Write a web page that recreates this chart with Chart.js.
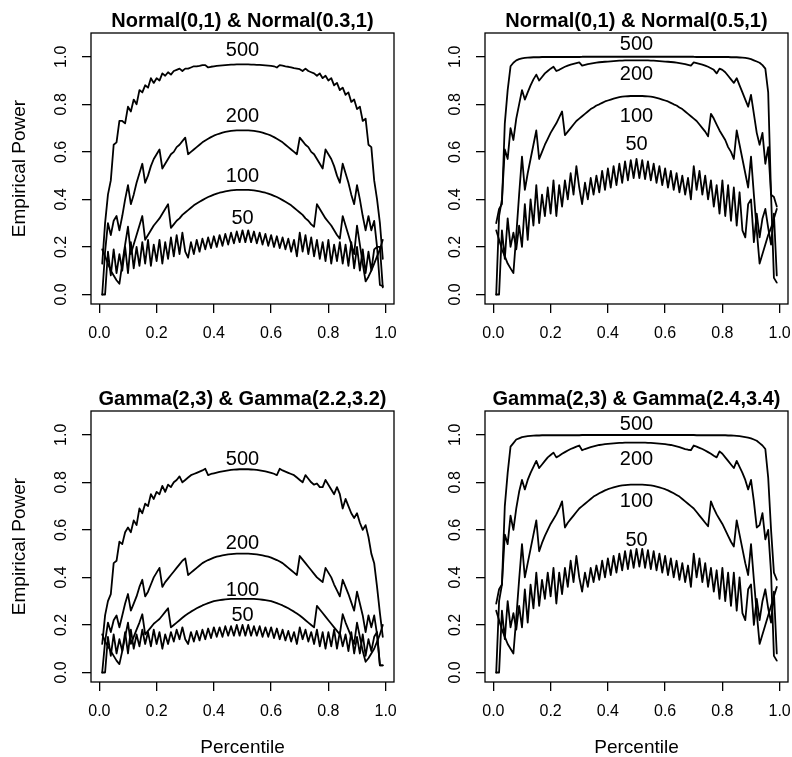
<!DOCTYPE html>
<html>
<head>
<meta charset="utf-8">
<script src="https://cdn.jsdelivr.net/npm/chart.js@4.4.1/dist/chart.umd.min.js"></script>
<style>
  html, body { margin: 0; padding: 0; background: #fff; }
  #wrap { position: relative; width: 792px; height: 757px; }
  canvas { position: absolute; }
</style>
</head>
<body>
<div id="wrap">
  <canvas id="c0" width="396" height="378" style="left:0;top:0"></canvas>
  <canvas id="c1" width="396" height="378" style="left:396px;top:0"></canvas>
  <canvas id="c2" width="396" height="379" style="left:0;top:378px"></canvas>
  <canvas id="c3" width="396" height="379" style="left:396px;top:378px"></canvas>
</div>
<script>
// percentiles 0.01 .. 0.99
const percentiles = [
  0.01,0.02,0.03,0.04,0.05,0.06,0.07,0.08,0.09,0.10,
  0.11,0.12,0.13,0.14,0.15,0.16,0.17,0.18,0.19,0.20,
  0.21,0.22,0.23,0.24,0.25,0.26,0.27,0.28,0.29,0.30,
  0.31,0.32,0.33,0.34,0.35,0.36,0.37,0.38,0.39,0.40,
  0.41,0.42,0.43,0.44,0.45,0.46,0.47,0.48,0.49,0.50,
  0.51,0.52,0.53,0.54,0.55,0.56,0.57,0.58,0.59,0.60,
  0.61,0.62,0.63,0.64,0.65,0.66,0.67,0.68,0.69,0.70,
  0.71,0.72,0.73,0.74,0.75,0.76,0.77,0.78,0.79,0.80,
  0.81,0.82,0.83,0.84,0.85,0.86,0.87,0.88,0.89,0.90,
  0.91,0.92,0.93,0.94,0.95,0.96,0.97,0.98,0.99
];

const sampleSizes = ["500", "200", "100", "50"];
const panelTitles = [
  "Normal(0,1) & Normal(0.3,1)",
  "Normal(0,1) & Normal(0.5,1)",
  "Gamma(2,3) & Gamma(2.2,3.2)",
  "Gamma(2,3) & Gamma(2.4,3.4)"
];
const xTicks = [0, 0.2, 0.4, 0.6, 0.8, 1.0];
const yTicks = [0, 0.2, 0.4, 0.6, 0.8, 1.0];
const xTitle = "Percentile";
const yTitle = "Empirical Power";

// ---- Normal(0,1) & Normal(0.3,1)
const normal03_n500 = [
  0.13,0.30,0.42,0.48,0.63,0.64,0.73,0.73,0.72,0.79,
  0.77,0.82,0.80,0.86,0.85,0.88,0.87,0.91,0.89,0.91,
  0.90,0.93,0.92,0.935,0.925,0.94,0.945,0.95,0.94,0.95,
  0.95,0.955,0.96,0.96,0.962,0.965,0.965,0.955,0.958,0.96,
  0.962,0.963,0.964,0.965,0.966,0.967,0.967,0.968,0.968,0.968,
  0.968,0.968,0.967,0.967,0.966,0.966,0.965,0.964,0.963,0.962,
  0.96,0.955,0.965,0.963,0.96,0.958,0.955,0.952,0.95,0.948,
  0.94,0.95,0.94,0.935,0.93,0.92,0.93,0.91,0.92,0.90,
  0.91,0.88,0.89,0.86,0.87,0.84,0.85,0.81,0.82,0.78,
  0.79,0.73,0.74,0.63,0.62,0.48,0.40,0.30,0.15
];
const normal03_n200 = [
  0.00,0.18,0.30,0.25,0.31,0.33,0.27,0.33,0.40,0.46,
  0.38,0.42,0.47,0.51,0.55,0.47,0.50,0.54,0.57,0.59,
  0.61,0.53,0.55,0.57,0.59,0.60,0.62,0.63,0.645,0.66,
  0.59,0.60,0.61,0.62,0.63,0.64,0.648,0.655,0.662,0.668,
  0.673,0.677,0.681,0.684,0.686,0.688,0.689,0.69,0.69,0.69,
  0.69,0.69,0.689,0.688,0.686,0.684,0.681,0.677,0.673,0.668,
  0.662,0.655,0.648,0.64,0.63,0.62,0.61,0.60,0.59,0.66,
  0.645,0.63,0.62,0.60,0.59,0.57,0.55,0.53,0.61,0.59,
  0.57,0.54,0.50,0.47,0.55,0.51,0.47,0.42,0.38,0.46,
  0.40,0.33,0.27,0.33,0.27,0.31,0.20,0.20,0.03
];
const normal03_n100 = [
  0.19,0.16,0.13,0.10,0.08,0.06,0.045,0.13,0.21,0.285,
  0.17,0.21,0.25,0.29,0.33,0.23,0.25,0.27,0.29,0.305,
  0.32,0.34,0.36,0.38,0.28,0.295,0.31,0.32,0.335,0.345,
  0.355,0.365,0.375,0.383,0.39,0.397,0.404,0.41,0.415,0.42,
  0.424,0.428,0.431,0.434,0.436,0.438,0.439,0.44,0.44,0.44,
  0.44,0.44,0.439,0.438,0.436,0.434,0.431,0.428,0.424,0.42,
  0.415,0.41,0.404,0.397,0.39,0.383,0.375,0.365,0.355,0.345,
  0.335,0.32,0.31,0.295,0.285,0.38,0.36,0.34,0.32,0.305,
  0.29,0.27,0.25,0.235,0.33,0.29,0.25,0.21,0.17,0.29,
  0.21,0.13,0.055,0.075,0.10,0.13,0.16,0.19,0.23
];
const normal03_n50 = [
  0.00,0.00,0.18,0.08,0.19,0.09,0.17,0.10,0.20,0.09,
  0.22,0.11,0.20,0.12,0.22,0.13,0.23,0.12,0.21,0.14,
  0.23,0.13,0.22,0.15,0.24,0.16,0.25,0.17,0.26,0.18,
  0.155,0.22,0.17,0.23,0.18,0.235,0.19,0.24,0.195,0.245,
  0.20,0.25,0.205,0.255,0.21,0.26,0.215,0.265,0.22,0.27,
  0.22,0.27,0.22,0.265,0.215,0.26,0.21,0.255,0.205,0.25,
  0.20,0.245,0.195,0.24,0.19,0.235,0.18,0.23,0.16,0.26,
  0.18,0.25,0.17,0.24,0.16,0.23,0.15,0.22,0.14,0.23,
  0.13,0.21,0.14,0.22,0.13,0.21,0.12,0.22,0.11,0.20,
  0.10,0.19,0.09,0.18,0.10,0.19,0.20,0.04,0.035
];

// ---- Normal(0,1) & Normal(0.5,1)
const normal05_n500 = [
  0.30,0.36,0.38,0.72,0.86,0.96,0.975,0.985,0.99,0.993,
  0.995,0.996,0.997,0.998,0.998,0.998,0.999,0.999,0.999,0.999,
  0.999,0.999,0.999,0.999,0.999,0.999,0.999,0.999,0.999,0.999,
  1.0,1.0,1.0,1.0,1.0,1.0,1.0,1.0,1.0,1.0,
  1.0,1.0,1.0,1.0,1.0,1.0,1.0,1.0,1.0,1.0,
  1.0,1.0,1.0,1.0,1.0,1.0,1.0,1.0,1.0,1.0,
  1.0,1.0,1.0,1.0,1.0,1.0,1.0,1.0,1.0,1.0,
  0.999,0.999,0.999,0.999,0.999,0.999,0.999,0.999,0.999,0.999,
  0.999,0.999,0.998,0.998,0.998,0.997,0.996,0.995,0.993,0.99,
  0.985,0.98,0.975,0.965,0.95,0.85,0.42,0.41,0.37
];
const normal05_n200 = [
  0.00,0.33,0.40,0.61,0.57,0.70,0.65,0.74,0.80,0.86,
  0.82,0.85,0.88,0.905,0.925,0.90,0.915,0.93,0.94,0.95,
  0.958,0.94,0.945,0.952,0.958,0.963,0.967,0.97,0.973,0.976,
  0.963,0.966,0.969,0.971,0.973,0.975,0.977,0.978,0.979,0.98,
  0.981,0.982,0.983,0.984,0.984,0.985,0.985,0.985,0.985,0.985,
  0.985,0.985,0.985,0.985,0.984,0.984,0.983,0.982,0.981,0.98,
  0.979,0.978,0.977,0.975,0.973,0.971,0.969,0.966,0.963,0.976,
  0.973,0.97,0.967,0.963,0.958,0.952,0.945,0.93,0.95,0.945,
  0.935,0.92,0.905,0.89,0.91,0.88,0.85,0.82,0.79,0.84,
  0.76,0.68,0.63,0.68,0.55,0.62,0.42,0.07,0.05
];
const normal05_n100 = [
  0.27,0.23,0.19,0.16,0.13,0.11,0.09,0.25,0.42,0.58,
  0.44,0.51,0.57,0.63,0.69,0.57,0.60,0.63,0.655,0.68,
  0.70,0.72,0.745,0.77,0.67,0.685,0.70,0.715,0.73,0.74,
  0.75,0.76,0.77,0.78,0.787,0.795,0.80,0.806,0.812,0.816,
  0.82,0.824,0.827,0.83,0.832,0.833,0.834,0.835,0.835,0.835,
  0.835,0.835,0.834,0.833,0.832,0.83,0.827,0.824,0.82,0.816,
  0.812,0.806,0.80,0.795,0.787,0.78,0.77,0.76,0.75,0.74,
  0.73,0.715,0.70,0.685,0.665,0.76,0.74,0.715,0.69,0.67,
  0.65,0.62,0.60,0.57,0.69,0.63,0.57,0.51,0.45,0.58,
  0.42,0.27,0.13,0.17,0.21,0.25,0.28,0.32,0.36
];
const normal05_n50 = [
  0.00,0.00,0.27,0.15,0.32,0.20,0.26,0.19,0.29,0.20,
  0.38,0.23,0.40,0.29,0.46,0.30,0.42,0.33,0.45,0.34,
  0.48,0.33,0.46,0.37,0.48,0.40,0.51,0.42,0.54,0.45,
  0.38,0.47,0.40,0.49,0.42,0.50,0.43,0.52,0.44,0.53,
  0.45,0.54,0.46,0.55,0.47,0.56,0.48,0.565,0.49,0.57,
  0.49,0.565,0.485,0.56,0.48,0.55,0.47,0.54,0.46,0.53,
  0.45,0.52,0.44,0.51,0.43,0.50,0.42,0.49,0.40,0.54,
  0.44,0.52,0.42,0.50,0.40,0.48,0.37,0.46,0.34,0.48,
  0.33,0.46,0.31,0.45,0.29,0.43,0.27,0.24,0.38,0.40,
  0.22,0.34,0.24,0.32,0.36,0.28,0.21,0.34,0.08
];

// ---- Gamma(2,3) & Gamma(2.2,3.2)
const gamma22_n500 = [
  0.12,0.24,0.30,0.33,0.46,0.47,0.55,0.54,0.59,0.61,
  0.59,0.64,0.62,0.69,0.67,0.71,0.70,0.75,0.73,0.76,
  0.75,0.785,0.76,0.79,0.78,0.80,0.81,0.825,0.80,0.81,
  0.82,0.83,0.835,0.84,0.845,0.85,0.857,0.83,0.835,0.838,
  0.841,0.844,0.846,0.848,0.85,0.852,0.853,0.854,0.855,0.855,
  0.855,0.855,0.854,0.853,0.852,0.85,0.848,0.846,0.843,0.84,
  0.836,0.83,0.857,0.85,0.845,0.84,0.835,0.83,0.82,0.81,
  0.80,0.83,0.815,0.80,0.79,0.795,0.78,0.78,0.81,0.79,
  0.77,0.75,0.78,0.75,0.69,0.73,0.70,0.67,0.65,0.67,
  0.63,0.60,0.62,0.57,0.50,0.46,0.36,0.25,0.15
];
const gamma22_n200 = [
  0.00,0.13,0.21,0.17,0.22,0.24,0.19,0.24,0.29,0.33,
  0.26,0.29,0.32,0.36,0.39,0.32,0.34,0.37,0.40,0.42,
  0.44,0.36,0.38,0.395,0.41,0.425,0.44,0.455,0.47,0.48,
  0.41,0.42,0.43,0.44,0.45,0.46,0.467,0.473,0.478,0.483,
  0.487,0.49,0.493,0.495,0.497,0.498,0.499,0.50,0.50,0.50,
  0.50,0.50,0.499,0.498,0.497,0.495,0.493,0.49,0.487,0.483,
  0.478,0.473,0.467,0.46,0.45,0.44,0.43,0.42,0.41,0.49,
  0.475,0.46,0.445,0.43,0.415,0.40,0.39,0.38,0.44,0.42,
  0.40,0.37,0.345,0.32,0.39,0.36,0.33,0.295,0.26,0.34,
  0.29,0.24,0.17,0.24,0.19,0.24,0.16,0.03,0.03
];
const gamma22_n100 = [
  0.16,0.13,0.11,0.09,0.07,0.05,0.035,0.09,0.15,0.21,
  0.12,0.15,0.18,0.21,0.245,0.16,0.175,0.19,0.205,0.215,
  0.225,0.24,0.255,0.27,0.19,0.20,0.21,0.22,0.23,0.24,
  0.248,0.256,0.263,0.27,0.276,0.282,0.287,0.292,0.296,0.30,
  0.302,0.304,0.306,0.308,0.309,0.31,0.31,0.31,0.31,0.31,
  0.31,0.31,0.31,0.31,0.309,0.308,0.306,0.304,0.302,0.30,
  0.296,0.292,0.287,0.282,0.276,0.27,0.263,0.256,0.248,0.24,
  0.23,0.22,0.21,0.20,0.19,0.28,0.265,0.25,0.235,0.22,
  0.205,0.19,0.175,0.16,0.245,0.21,0.18,0.15,0.12,0.21,
  0.15,0.09,0.045,0.06,0.08,0.10,0.13,0.16,0.20
];
const gamma22_n50 = [
  0.00,0.00,0.15,0.07,0.16,0.08,0.14,0.09,0.17,0.08,
  0.18,0.10,0.16,0.11,0.18,0.12,0.17,0.11,0.18,0.12,
  0.17,0.10,0.16,0.12,0.17,0.13,0.18,0.14,0.19,0.14,
  0.12,0.17,0.13,0.175,0.135,0.18,0.14,0.185,0.145,0.19,
  0.15,0.19,0.15,0.195,0.155,0.195,0.155,0.20,0.155,0.20,
  0.155,0.20,0.155,0.195,0.155,0.195,0.15,0.19,0.15,0.19,
  0.145,0.185,0.14,0.18,0.135,0.175,0.13,0.17,0.12,0.19,
  0.14,0.18,0.13,0.17,0.12,0.18,0.11,0.17,0.10,0.17,
  0.11,0.18,0.10,0.17,0.11,0.16,0.09,0.17,0.08,0.15,
  0.08,0.16,0.07,0.14,0.09,0.15,0.17,0.03,0.03
];

// ---- Gamma(2,3) & Gamma(2.4,3.4)
const gamma24_n500 = [
  0.29,0.35,0.37,0.70,0.84,0.95,0.965,0.98,0.985,0.99,
  0.992,0.994,0.995,0.996,0.997,0.997,0.998,0.998,0.998,0.998,
  0.998,0.998,0.998,0.998,0.998,0.998,0.998,0.998,0.998,0.998,
  0.999,0.999,0.999,0.999,0.999,0.999,0.999,0.999,0.999,0.999,
  0.999,0.999,0.999,0.999,0.999,0.999,0.999,0.999,0.999,0.999,
  0.999,0.999,0.999,0.999,0.999,0.999,0.999,0.999,0.999,0.999,
  0.999,0.999,0.999,0.999,0.999,0.999,0.999,0.999,0.999,0.999,
  0.998,0.998,0.998,0.998,0.998,0.998,0.998,0.998,0.998,0.998,
  0.998,0.997,0.997,0.996,0.995,0.994,0.992,0.99,0.988,0.985,
  0.98,0.975,0.965,0.955,0.94,0.82,0.60,0.42,0.39
];
const gamma24_n200 = [
  0.00,0.30,0.37,0.58,0.54,0.66,0.60,0.69,0.76,0.81,
  0.77,0.81,0.84,0.865,0.89,0.86,0.875,0.89,0.905,0.915,
  0.925,0.905,0.912,0.92,0.927,0.934,0.94,0.945,0.95,0.955,
  0.935,0.94,0.944,0.948,0.951,0.954,0.957,0.959,0.961,0.962,
  0.963,0.964,0.965,0.966,0.966,0.967,0.967,0.967,0.967,0.967,
  0.967,0.967,0.967,0.966,0.966,0.965,0.964,0.963,0.962,0.961,
  0.959,0.957,0.954,0.951,0.948,0.944,0.94,0.937,0.935,0.955,
  0.95,0.945,0.94,0.934,0.927,0.92,0.912,0.905,0.93,0.92,
  0.905,0.89,0.875,0.86,0.89,0.865,0.84,0.81,0.77,0.81,
  0.72,0.61,0.62,0.67,0.56,0.60,0.42,0.07,0.05
];
const gamma24_n100 = [
  0.26,0.22,0.18,0.15,0.12,0.10,0.08,0.23,0.39,0.54,
  0.40,0.46,0.52,0.58,0.64,0.51,0.545,0.575,0.60,0.625,
  0.645,0.665,0.69,0.72,0.61,0.63,0.645,0.66,0.675,0.69,
  0.70,0.71,0.72,0.73,0.74,0.747,0.754,0.76,0.766,0.771,
  0.775,0.779,0.782,0.785,0.787,0.788,0.789,0.79,0.79,0.79,
  0.79,0.79,0.789,0.788,0.787,0.785,0.782,0.779,0.775,0.771,
  0.766,0.76,0.754,0.747,0.74,0.73,0.72,0.71,0.70,0.69,
  0.675,0.66,0.645,0.63,0.615,0.72,0.69,0.665,0.645,0.625,
  0.60,0.575,0.55,0.53,0.64,0.58,0.52,0.46,0.41,0.54,
  0.39,0.25,0.12,0.16,0.20,0.24,0.28,0.32,0.36
];
const gamma24_n50 = [
  0.00,0.00,0.26,0.14,0.30,0.19,0.25,0.18,0.28,0.19,
  0.35,0.21,0.37,0.27,0.42,0.28,0.39,0.31,0.42,0.32,
  0.44,0.29,0.42,0.33,0.44,0.36,0.47,0.38,0.49,0.40,
  0.34,0.42,0.36,0.44,0.38,0.45,0.39,0.47,0.40,0.48,
  0.41,0.49,0.42,0.50,0.43,0.51,0.435,0.515,0.44,0.52,
  0.445,0.52,0.44,0.515,0.435,0.51,0.43,0.50,0.42,0.49,
  0.41,0.48,0.40,0.47,0.39,0.46,0.38,0.45,0.36,0.50,
  0.40,0.48,0.38,0.46,0.36,0.44,0.34,0.43,0.31,0.44,
  0.30,0.42,0.28,0.42,0.26,0.40,0.25,0.22,0.35,0.37,
  0.20,0.31,0.22,0.30,0.35,0.27,0.21,0.34,0.08
];

const FONT = '"Liberation Sans", Arial, Helvetica, sans-serif';

// panel layout: plot box in canvas pixels, label heights in data units
const panels = [
  { id: 'c0', title: panelTitles[0], series: [normal03_n500, normal03_n200, normal03_n100, normal03_n50],
    labelAt: [1.028, 0.748, 0.495, 0.32], box: { l: 91, r: 394, t: 33, b: 304 }, showY: true, showX: false },
  { id: 'c1', title: panelTitles[1], series: [normal05_n500, normal05_n200, normal05_n100, normal05_n50],
    labelAt: [1.05, 0.927, 0.748, 0.63], box: { l: 89, r: 392, t: 33, b: 304 }, showY: false, showX: false },
  { id: 'c2', title: panelTitles[2], series: [gamma22_n500, gamma22_n200, gamma22_n100, gamma22_n50],
    labelAt: [0.895, 0.542, 0.346, 0.239], box: { l: 91, r: 394, t: 33, b: 304 }, showY: true, showX: true },
  { id: 'c3', title: panelTitles[3], series: [gamma24_n500, gamma24_n200, gamma24_n100, gamma24_n50],
    labelAt: [1.045, 0.895, 0.718, 0.556], box: { l: 89, r: 392, t: 33, b: 304 }, showY: false, showX: true }
];

const TICK = 9;

const decorations = {
  id: 'decorations',
  afterDraw(chart, args, opts) {
    const ctx = chart.ctx;
    const a = chart.chartArea;
    const xs = chart.scales.x, ys = chart.scales.y;
    ctx.save();
    ctx.strokeStyle = '#000';
    ctx.fillStyle = '#000';
    ctx.lineWidth = 1.3;
    ctx.strokeRect(a.left, a.top, a.right - a.left, a.bottom - a.top);

    // panel title
    ctx.font = 'bold 20px ' + FONT;
    ctx.textAlign = 'center';
    ctx.textBaseline = 'middle';
    ctx.fillText(opts.title, (a.left + a.right) / 2, 21);

    // x tick labels
    ctx.font = '16px ' + FONT;
    xTicks.forEach(v => ctx.fillText(v.toFixed(1), xs.getPixelForValue(v), a.bottom + 30));

    // y tick labels, rotated
    yTicks.forEach(v => {
      ctx.save();
      ctx.translate(a.left - 29.5, ys.getPixelForValue(v));
      ctx.rotate(-Math.PI / 2);
      ctx.fillText(v.toFixed(1), 0, 0);
      ctx.restore();
    });

    ctx.font = '19px ' + FONT;
    if (opts.showY) {
      ctx.save();
      ctx.translate(20, (a.top + a.bottom) / 2);
      ctx.rotate(-Math.PI / 2);
      ctx.fillText(yTitle, 0, 0);
      ctx.restore();
    }
    if (opts.showX) {
      ctx.fillText(xTitle, (a.left + a.right) / 2, 370);
    }

    // sample size labels on the curves
    ctx.font = '20px ' + FONT;
    sampleSizes.forEach((s, i) => {
      ctx.fillText(s, xs.getPixelForValue(0.5), ys.getPixelForValue(opts.labelAt[i]));
    });
    ctx.restore();
  }
};

panels.forEach(p => {
  const cv = document.getElementById(p.id);
  const W = cv.width, H = cv.height;
  new Chart(cv.getContext('2d'), {
    type: 'line',
    data: {
      datasets: p.series.map((vals, i) => ({
        label: sampleSizes[i],
        data: percentiles.map((x, j) => ({ x: x, y: vals[j] })),
        borderColor: '#000',
        borderWidth: 1.8,
        pointRadius: 0,
        fill: false,
        tension: 0,
        borderJoinStyle: 'round',
        borderCapStyle: 'round'
      }))
    },
    options: {
      responsive: false,
      animation: false,
      devicePixelRatio: 1,
      events: [],
      layout: {
        padding: { left: p.box.l - TICK, right: W - p.box.r, top: p.box.t, bottom: H - p.box.b - TICK }
      },
      scales: {
        x: {
          type: 'linear',
          min: -0.0292, max: 1.0292,
          afterBuildTicks: s => { s.ticks = xTicks.map(v => ({ value: v })); },
          afterFit: s => { s.height = TICK; },
          ticks: { display: false },
          border: { display: false },
          grid: { display: true, drawOnChartArea: false, drawTicks: true, tickLength: TICK, color: '#000', lineWidth: 1.3 }
        },
        y: {
          type: 'linear',
          min: -0.04, max: 1.10,
          afterBuildTicks: s => { s.ticks = yTicks.map(v => ({ value: v })); },
          afterFit: s => { s.width = TICK; },
          ticks: { display: false },
          border: { display: false },
          grid: { display: true, drawOnChartArea: false, drawTicks: true, tickLength: TICK, color: '#000', lineWidth: 1.3 }
        }
      },
      plugins: {
        legend: { display: false },
        tooltip: { enabled: false },
        decorations: { title: p.title, labelAt: p.labelAt, showY: p.showY, showX: p.showX }
      }
    },
    plugins: [decorations]
  });
});
</script>
</body>
</html>
